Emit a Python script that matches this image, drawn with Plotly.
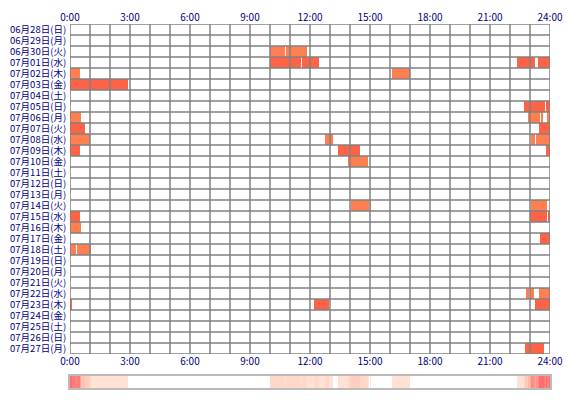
import plotly.graph_objects as go

days = ['06月28日(日)', '06月29日(月)', '06月30日(火)', '07月01日(水)', '07月02日(木)',
        '07月03日(金)', '07月04日(土)', '07月05日(日)', '07月06日(月)', '07月07日(火)',
        '07月08日(水)', '07月09日(木)', '07月10日(金)', '07月11日(土)', '07月12日(日)',
        '07月13日(月)', '07月14日(火)', '07月15日(水)', '07月16日(木)', '07月17日(金)',
        '07月18日(土)', '07月19日(日)', '07月20日(月)', '07月21日(火)', '07月22日(水)',
        '07月23日(木)', '07月24日(金)', '07月25日(土)', '07月26日(日)', '07月27日(月)']

seg_day = ['06月30日(火)', '06月30日(火)',
           '07月01日(水)', '07月01日(水)', '07月01日(水)', '07月01日(水)', '07月01日(水)',
           '07月02日(木)', '07月02日(木)',
           '07月03日(金)',
           '07月05日(日)', '07月05日(日)',
           '07月06日(月)', '07月06日(月)', '07月06日(月)', '07月06日(月)',
           '07月07日(火)', '07月07日(火)',
           '07月08日(水)', '07月08日(水)', '07月08日(水)', '07月08日(水)', '07月08日(水)',
           '07月09日(木)', '07月09日(木)', '07月09日(木)',
           '07月10日(金)',
           '07月14日(火)', '07月14日(火)', '07月14日(火)',
           '07月15日(水)', '07月15日(水)', '07月15日(水)',
           '07月16日(木)',
           '07月17日(金)',
           '07月18日(土)', '07月18日(土)',
           '07月22日(水)', '07月22日(水)', '07月22日(水)', '07月22日(水)',
           '07月23日(木)', '07月23日(木)', '07月23日(木)',
           '07月27日(月)']
seg_start = ['10:00', '10:48',
             '10:00', '11:36', '22:21', '23:23', '23:56',
             '0:00', '16:06',
             '0:00',
             '22:42', '23:49',
             '0:00', '22:54', '23:33', '23:51',
             '0:00', '23:27',
             '0:00', '12:45', '23:02', '23:18', '23:56',
             '0:00', '13:24', '23:47',
             '13:54',
             '14:03', '15:00', '23:03',
             '0:00', '23:00', '23:53',
             '0:00',
             '23:30',
             '0:00', '0:21',
             '22:48', '22:53', '23:00', '23:27',
             '0:00', '12:12', '23:15',
             '22:45']
seg_end = ['10:45', '11:51',
           '11:33', '12:27', '23:16', '23:53', '24:00',
           '0:30', '17:00',
           '2:54',
           '23:46', '24:00',
           '0:33', '23:30', '23:40', '24:00',
           '0:45', '24:00',
           '1:00', '13:09', '23:15', '23:53', '24:00',
           '0:30', '14:30', '24:00',
           '14:54',
           '14:57', '15:03', '23:50',
           '0:30', '23:50', '24:00',
           '0:33',
           '24:00',
           '0:18', '1:03',
           '22:50', '22:58', '23:11', '24:00',
           '0:06', '12:57', '24:00',
           '23:42']

hour_ticks = [0, 3, 6, 9, 12, 15, 18, 21, 24]
hour_labels = ['0:00', '3:00', '6:00', '9:00', '12:00', '15:00', '18:00', '21:00', '24:00']

colors_by_parity = ['#FF7F50', '#FF6347']
NAVY = '#000080'
FONT = 'Noto Sans CJK JP'


def to_h(s):
    h, m = s.split(':')
    return int(h) + int(m) / 60.0


row_idx = [days.index(d) for d in seg_day]
starts = [to_h(s) for s in seg_start]
durs = [to_h(e) - to_h(s) for s, e in zip(seg_start, seg_end)]
cols = [colors_by_parity[r % 2] for r in row_idx]

# per-minute activity counts for the summary strip
counts = [0] * 1440
for s, e in zip(seg_start, seg_end):
    a, b = int(round(to_h(s) * 60)), int(round(to_h(e) * 60))
    for m in range(a, b):
        counts[m] += 1
strip_x = [(m + 0.5) / 60.0 for m in range(1440)]

fig = go.Figure()
fig.add_trace(go.Bar(orientation='h', y=row_idx, x=durs, base=starts, width=1.0,
                     marker=dict(color=cols, line=dict(width=0)),
                     hoverinfo='skip', showlegend=False, xaxis='x', yaxis='y'))
fig.add_trace(go.Scatter(x=[0, 24], y=[0, 0], mode='markers', marker=dict(opacity=0),
                         hoverinfo='skip', showlegend=False, xaxis='x2', yaxis='y'))
fig.add_trace(go.Heatmap(x=strip_x, y=[0], z=[counts], zmin=0, zmax=10,
                         colorscale=[[0, '#FFFFFF'], [0.05, '#FFFFFF'], [0.1, '#FFE2D4'],
                                     [0.4, '#FFC4B4'], [1, '#FF6E6E']],
                         showscale=False, hoverinfo='skip', xaxis='x3', yaxis='y3'))

GRID = '#808080'
shapes = []
for h in range(25):
    shapes.append(dict(type='line', xref='x', yref='y', x0=h, x1=h, y0=-0.5, y1=len(days) - 0.5,
                       line=dict(color=GRID, width=1.5), layer='above'))
for k in range(len(days) + 1):
    shapes.append(dict(type='line', xref='x', yref='y', x0=0, x1=24, y0=k - 0.5, y1=k - 0.5,
                       line=dict(color=GRID, width=1.5), layer='above'))

main_bottom = (388 - 354) / 364.0
strip_top = 12 / 364.0

fig.update_layout(
    width=570, height=400,
    margin=dict(l=70, r=20, t=24, b=12),
    paper_bgcolor='white', plot_bgcolor='white',
    shapes=shapes,
    bargap=0,
    xaxis=dict(range=[0, 24], domain=[0, 1], anchor='y', tickvals=hour_ticks, ticktext=hour_labels,
               showgrid=False, zeroline=False, showline=False, ticks='', automargin=False,
               tickfont=dict(family=FONT, size=10, color=NAVY)),
    xaxis2=dict(range=[0, 24], overlaying='x', side='top', anchor='y', tickvals=hour_ticks,
                ticktext=hour_labels, showgrid=False, zeroline=False, showline=False, ticks='',
                automargin=False, tickfont=dict(family=FONT, size=10, color=NAVY)),
    yaxis=dict(range=[len(days) - 0.5, -0.5], domain=[main_bottom, 1], anchor='x',
               tickvals=list(range(len(days))), ticktext=days, showgrid=False, zeroline=False,
               showline=False, ticks='outside', ticklen=1, tickcolor='white', automargin=False,
               tickfont=dict(family=FONT, size=9.5, color=NAVY)),
    xaxis3=dict(range=[0, 24], domain=[0, 1], anchor='y3', showticklabels=False, showgrid=False,
                zeroline=False, showline=True, mirror=True, linecolor='#BBBBBB', linewidth=2,
                ticks='', automargin=False),
    yaxis3=dict(range=[-0.5, 0.5], domain=[0, strip_top], anchor='x3', showticklabels=False,
                showgrid=False, zeroline=False, showline=True, mirror=True, linecolor='#BBBBBB',
                linewidth=2, ticks='', automargin=False),
)

fig.write_html('out.html')
